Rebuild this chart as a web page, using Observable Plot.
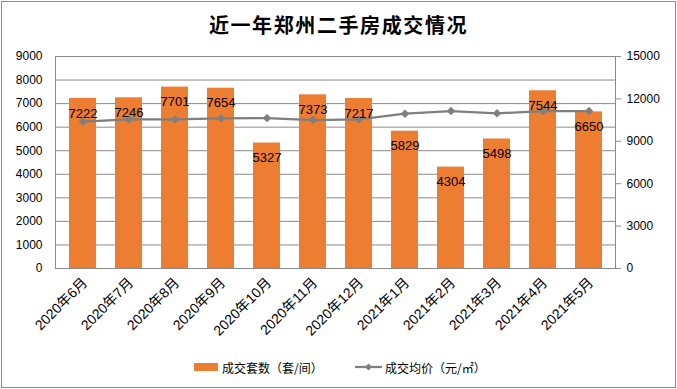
<!DOCTYPE html>
<html>
<head>
<meta charset="utf-8">
<script src="https://cdn.jsdelivr.net/npm/d3@7"></script>
<script src="https://cdn.jsdelivr.net/npm/@observablehq/plot@0.6"></script>
<style>
  html, body { margin: 0; padding: 0; background: #fff; }
  #wrap { position: relative; width: 677px; height: 389px; overflow: hidden; font-family: 'Liberation Sans', 'Noto Sans CJK SC', sans-serif; }
  #border { position: absolute; left: 1px; top: 1px; border: 1.5px solid #8a8a8a; box-sizing: border-box; width: 675px; height: 387px; }
  #title { position: absolute; left: 0; width: 677px; top: 14px; text-align: center; font-family: 'Noto Sans CJK SC', sans-serif; font-weight: bold; font-size: 20px; line-height: 22px; letter-spacing: 1.6px; color: #000; }
  #chart { position: absolute; left: 0; top: 40px; }
  #legend { position: absolute; top: 357px; left: 0; width: 677px; height: 20px; font-family: 'Noto Sans CJK SC', sans-serif; font-size: 12px; color: #000; }
  .li { position: absolute; top: 0; display: flex; align-items: center; height: 20px; white-space: nowrap; }
</style>
</head>
<body>
<div id="wrap">
  <div id="title">近一年郑州二手房成交情况</div>
  <div id="chart"></div>
  <div id="legend"></div>
  <div id="border"></div>
</div>
<script>
const months = ["2020年6月","2020年7月","2020年8月","2020年9月","2020年10月","2020年11月","2020年12月","2021年1月","2021年2月","2021年3月","2021年4月","2021年5月"];
const counts = [7222, 7246, 7701, 7654, 5327, 7373, 7217, 5829, 4304, 5498, 7544, 6650];
const prices = [10400, 10550, 10550, 10630, 10640, 10500, 10550, 10950, 11140, 10980, 11130, 11140];
const leftTicks = [0, 1000, 2000, 3000, 4000, 5000, 6000, 7000, 8000, 9000];
const rightTicks = [0, 3000, 6000, 9000, 12000, 15000];
const leftMax = 9000, rightMax = 15000;
const seriesNames = ["成交套数（套/间）", "成交均价（元/㎡）"];

const k = leftMax / rightMax;
const data = months.map((m, i) => ({month: m, count: counts[i], price: prices[i]}));
const grey = "#8a8a8a";
const orange = "#ED7D31";
const lineGrey = "#7f7f7f";

const chart = Plot.plot({
  width: 677,
  height: 300,
  marginTop: 16,
  marginBottom: 72,
  marginLeft: 55,
  marginRight: 62,
  style: {fontFamily: "'Liberation Sans','Noto Sans CJK SC',sans-serif", fontSize: "12px", color: "#000", background: "transparent"},
  x: {type: "band", domain: months, paddingInner: 0.42, paddingOuter: 0.21, label: null},
  y: {domain: [0, leftMax], label: null},
  marks: [
    Plot.gridY(leftTicks, {stroke: grey, strokeOpacity: 1, strokeWidth: 1}),
    Plot.barY(data, {x: "month", y: "count", fill: orange}),
    Plot.frame({stroke: grey, strokeWidth: 1}),
    Plot.line(data, {x: "month", y: d => d.price * k, stroke: lineGrey, strokeWidth: 2.25}),
    Plot.dot(data, {x: "month", y: d => d.price * k, symbol: "diamond2", r: 3.6, fill: lineGrey, stroke: lineGrey, strokeWidth: 0.5}),
    Plot.text(data, {x: "month", y: "count", text: d => String(d.count), dy: 15, fontSize: 13, fill: "#000"}),
    Plot.axisY(leftTicks, {anchor: "left", tickSize: 0, tickPadding: 13, label: null, fill: "#000", fontSize: 12, tickFormat: d => String(d)}),
    Plot.axisY(rightTicks.map(v => v * k), {anchor: "right", tickSize: 5, tickPadding: 6, stroke: grey, label: null, fill: "#000", fontSize: 12, tickFormat: d => String(Math.round(d / k))}),
    Plot.axisX({tickSize: 0, tickRotate: -45, tickPadding: 12, label: null, fill: "#000", fontSize: 14, dx: 2})
  ]
});
document.getElementById("chart").appendChild(chart);

const legend = document.getElementById("legend");
const l1 = document.createElement("div");
l1.className = "li";
l1.style.left = "194px";
l1.innerHTML = `<svg width="28" height="20"><rect x="0" y="6" width="24" height="8" fill="${orange}"/></svg><span>${seriesNames[0]}</span>`;
const l2 = document.createElement("div");
l2.className = "li";
l2.style.left = "355px";
l2.innerHTML = `<svg width="30" height="20"><line x1="0" y1="10" x2="27" y2="10" stroke="${lineGrey}" stroke-width="2.25"/><path d="M13.5,6.5 L17,10 L13.5,13.5 L10,10 Z" fill="${lineGrey}"/></svg><span>${seriesNames[1]}</span>`;
legend.appendChild(l1);
legend.appendChild(l2);
</script>
</body>
</html>
